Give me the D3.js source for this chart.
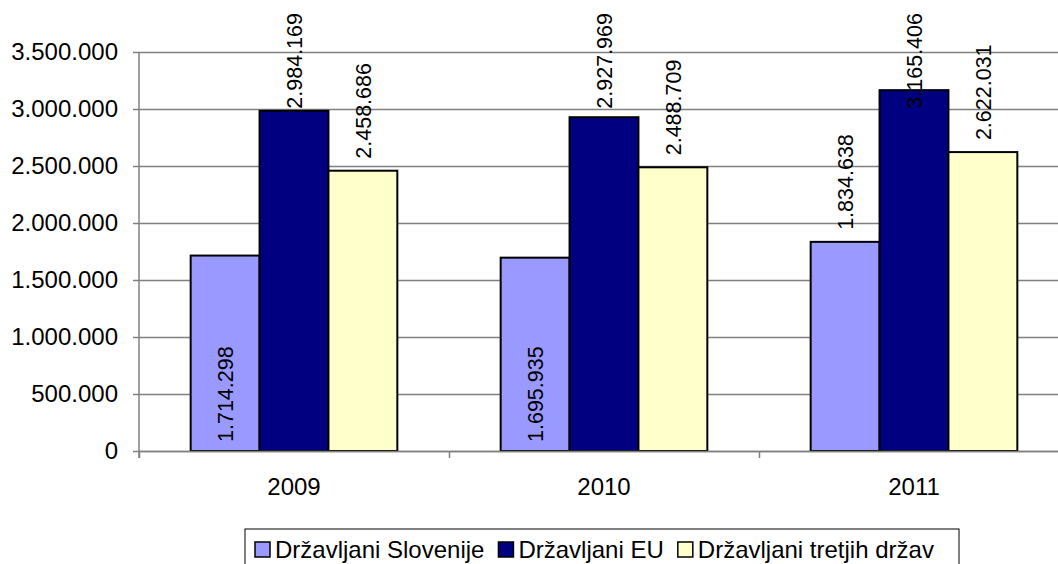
<!DOCTYPE html>
<html>
<head>
<meta charset="utf-8">
<script src="https://cdn.jsdelivr.net/npm/d3@7"></script>
<style>
  body { margin: 0; background: #fff; }
  text { font-family: "Liberation Sans", Arial, sans-serif; fill: #000; }
</style>
</head>
<body>
<script>
// data
var years = ["2009", "2010", "2011"];
var seriesNames = ["Državljani Slovenije", "Državljani EU", "Državljani tretjih držav"];
var slovenia = [1714298, 1695935, 1834638];
var eu = [2984169, 2927969, 3165406];
var third = [2458686, 2488709, 2622031];
var yTicks = [0, 500000, 1000000, 1500000, 2000000, 2500000, 3000000, 3500000];
var colors = ["#9999FF", "#000080", "#FFFFCC"];

var width = 1058, height = 564;
var plot = {left: 139, right: 1069, top: 52, bottom: 451};

var series = [slovenia, eu, third];

var fmt = d3.formatLocale({decimal: ",", thousands: ".", grouping: [3], currency: ["", ""]}).format(",d");

var svg = d3.select("body").append("svg")
  .attr("width", width)
  .attr("height", height);

svg.append("rect").attr("width", width).attr("height", height).attr("fill", "#fff");

var y = d3.scaleLinear().domain([0, 3500000]).range([plot.bottom, plot.top]);
var x0 = d3.scaleBand().domain(years).range([plot.left, plot.right]);
var x1 = d3.scaleBand().domain(d3.range(series.length))
  .range([0, x0.bandwidth()]).paddingOuter(0.75);

// gridlines
var grid = svg.append("g")
  .attr("transform", "translate(" + plot.left + ",0)")
  .call(d3.axisLeft(y).tickValues(yTicks).tickSize(-(plot.right - plot.left)).tickFormat(""));
grid.select(".domain").remove();
grid.selectAll("line").attr("stroke", "#808080").attr("stroke-width", 1.5);

// bars
var groups = svg.append("g").selectAll("g")
  .data(years)
  .enter().append("g")
  .attr("transform", function(d) { return "translate(" + x0(d) + ",0)"; });

groups.selectAll("rect")
  .data(function(d, i) { return series.map(function(s, j) { return {s: j, v: s[i], year: i}; }); })
  .enter().append("rect")
  .attr("x", function(d) { return x1(d.s); })
  .attr("y", function(d) { return y(d.v); })
  .attr("width", x1.bandwidth())
  .attr("height", function(d) { return y(0) - y(d.v); })
  .attr("fill", function(d) { return colors[d.s]; })
  .attr("stroke", "#000")
  .attr("stroke-width", 2);

// axes
var yAxis = svg.append("g")
  .attr("transform", "translate(" + plot.left + ",0)")
  .call(d3.axisLeft(y).tickValues(yTicks).tickSize(6).tickPadding(15).tickFormat(fmt));
yAxis.selectAll("line, path").attr("stroke", "#808080").attr("stroke-width", 1.5);
yAxis.select(".domain").attr("d", "M0," + plot.top + "V" + (plot.bottom + 7));
yAxis.selectAll("text").style("font-size", "24px").attr("fill", "#000");

var xTicks = svg.append("g")
  .attr("transform", "translate(0," + plot.bottom + ")")
  .call(d3.axisBottom(d3.scaleLinear().domain([0, 3]).range([plot.left, plot.right]))
    .ticks(3).tickSize(7).tickSizeOuter(0).tickFormat(""));
xTicks.selectAll("line, path").attr("stroke", "#808080").attr("stroke-width", 1.5);

var xAxis = svg.append("g")
  .attr("transform", "translate(0," + plot.bottom + ")")
  .call(d3.axisBottom(x0).tickSize(0).tickPadding(27));
xAxis.select(".domain").remove();
xAxis.selectAll("text").style("font-size", "24px").attr("fill", "#000");

// data labels, rotated
groups.selectAll("text.lbl")
  .data(function(d, i) { return series.map(function(s, j) { return {s: j, v: s[i], year: i}; }); })
  .enter().append("text")
  .attr("class", "lbl")
  .style("font-size", "21.5px")
  .attr("dy", "0.36em")
  .text(function(d) { return fmt(d.v); })
  .each(function(d) {
    var t = d3.select(this);
    var len = this.getComputedTextLength();
    var cx = x1(d.s) + x1.bandwidth() / 2;
    var start;
    if (d.s === 0 && d.year < 2) {
      // label sits inside the bar, at its base
      start = y(0) - 9;
    } else {
      start = y(d.v) - 12;
      if (start - len < 13) start = 13 + len;
    }
    t.attr("transform", "translate(" + cx + "," + start + ") rotate(-90)");
  });

// legend
var legend = svg.append("g");
legend.append("rect")
  .attr("x", 245).attr("y", 529)
  .attr("width", 714).attr("height", 45)
  .attr("fill", "#fff").attr("stroke", "#000").attr("stroke-width", 1);

var lx = 255;
seriesNames.forEach(function(name, i) {
  legend.append("rect")
    .attr("x", lx).attr("y", 542)
    .attr("width", 15).attr("height", 15)
    .attr("fill", colors[i]).attr("stroke", "#000").attr("stroke-width", 1.5);
  var t = legend.append("text")
    .attr("x", lx + 20).attr("y", 558)
    .style("font-size", "24px")
    .text(name);
  lx += 20 + t.node().getComputedTextLength() + 14;
});
</script>
</body>
</html>
